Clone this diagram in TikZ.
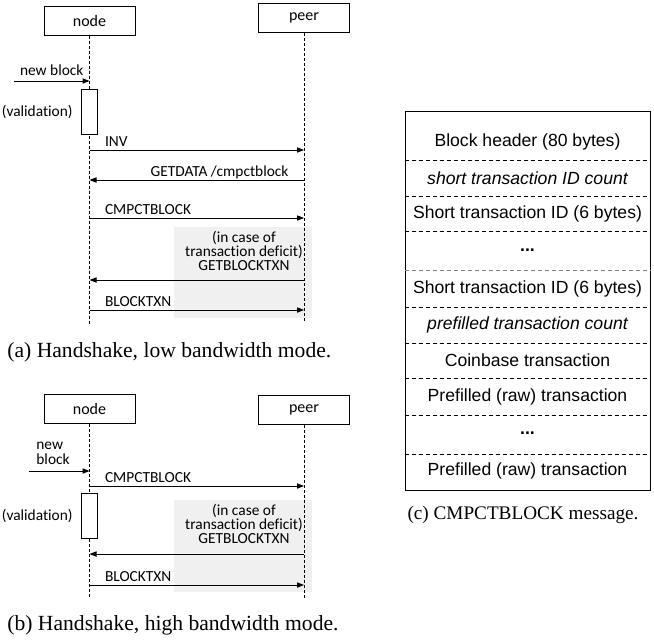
\documentclass[tikz,border=0pt]{standalone}
\usepackage{fontspec}
\setmainfont{Liberation Serif}
\newfontfamily\calibri[Ligatures={NoCommon}]{Carlito}
\newfontfamily\arial{Liberation Sans}
\usetikzlibrary{arrows.meta, positioning, calc}

\begin{document}
\begin{tikzpicture}[
    x=0.5pt, y=-0.5pt,
    >={Triangle[length=3.5pt, width=2.6pt]},
    lane/.style={rectangle, draw, line width=0.5pt, minimum width=45.5pt, minimum height=14.5pt, inner sep=0pt, font=\calibri\fontsize{8}{9}\selectfont},
    lifeline/.style={line width=0.5pt, dash pattern=on 1.5pt off 1pt},
    busy/.style={rectangle, draw, fill=white, line width=0.5pt, minimum width=8pt, minimum height=22.5pt, inner sep=0pt},
    msg/.style={->, line width=0.5pt},
    lbl/.style={inner sep=0.5pt, font=\calibri\fontsize{7.7}{7.2}\selectfont},
    deficit/.style={rectangle, fill=gray!12, draw=none, minimum width=69pt, inner sep=0pt},
    field/.style={inner sep=0pt, font=\arial\fontsize{8.8}{10}\selectfont},
    divider/.style={line width=0.5pt, dash pattern=on 2pt off 1.5pt},
    caption/.style={inner sep=0pt, font=\fontsize{10.8}{13}\selectfont},
]

\useasboundingbox (0,0) rectangle (654,643);

% (a) low bandwidth mode
\node[deficit, minimum height=45.5pt] (gapA) at (243,272.5) {};
\node[lane] (nodeA) at (89.5,20.5) {node};
\node[lane] (peerA) at (304,18) {peer};
\coordinate (nodeAend) at (89.5,325);
\coordinate (peerAend) at (304,323);
\draw[lifeline] (nodeA) -- (nodeAend);
\draw[lifeline] (peerA) -- (peerAend);

\coordinate (inA) at (14,81);
\draw[msg] (inA) -- node[lbl, anchor=base, yshift=3pt] {new block} (nodeA |- inA);
\node[busy] (valA) at (89.5,111.5) {};
\node[lbl, left=3.5pt of valA] (valAtxt) {(validation)};

\coordinate (invA) at (0,150);
\coordinate (getdataA) at (0,180);
\coordinate (cmpctA) at (0,218);
\coordinate (gettxnA) at (0,280);
\coordinate (txnA) at (0,310);
\draw[msg] (nodeA |- invA) -- node[lbl, pos=0, anchor=base west, xshift=7pt, yshift=2pt] {INV} (peerA |- invA);
\draw[msg] (peerA |- getdataA) -- node[lbl, pos=0, anchor=base east, xshift=-7pt, yshift=2pt] {GETDATA /cmpctblock} (nodeA |- getdataA);
\draw[msg] (nodeA |- cmpctA) -- node[lbl, pos=0, anchor=base west, xshift=7pt, yshift=2pt] {CMPCTBLOCK} (peerA |- cmpctA);
\node[lbl, align=center] (whyA) at (244,251) {(in case of\\transaction deficit)\\GETBLOCKTXN};
\draw[msg] (peerA |- gettxnA) -- (nodeA |- gettxnA);
\draw[msg] (nodeA |- txnA) -- node[lbl, pos=0, anchor=base west, xshift=7pt, yshift=2pt] {BLOCKTXN} (peerA |- txnA);

\node[caption, anchor=west] (capA) at (7,352) {(a) Handshake, low bandwidth mode.};

% (b) high bandwidth mode
\node[deficit, minimum height=46pt] (gapB) at (243,546) {};
\node[lane] (nodeB) at (89.5,409) {node};
\node[lane] (peerB) at (304,409.5) {peer};
\coordinate (nodeBend) at (89.5,598);
\coordinate (peerBend) at (304,598);
\draw[lifeline] (nodeB) -- (nodeBend);
\draw[lifeline] (peerB) -- (peerBend);

\coordinate (inB) at (29,471);
\draw[msg] (inB) -- (nodeB |- inB);
\node[lbl, align=left, anchor=west] (newB) at (35,453.5) {new\\block};

\coordinate (cmpctB) at (0,486);
\coordinate (gettxnB) at (0,554);
\coordinate (txnB) at (0,585);
\draw[msg] (nodeB |- cmpctB) -- node[lbl, pos=0, anchor=base west, xshift=7pt, yshift=2pt] {CMPCTBLOCK} (peerB |- cmpctB);
\node[busy] (valB) at (89.5,516) {};
\node[lbl, left=3.5pt of valB] (valBtxt) {(validation)};
\node[lbl, align=center] (whyB) at (244,524) {(in case of\\transaction deficit)\\GETBLOCKTXN};
\draw[msg] (peerB |- gettxnB) -- (nodeB |- gettxnB);
\draw[msg] (nodeB |- txnB) -- node[lbl, pos=0, anchor=base west, xshift=7pt, yshift=2pt] {BLOCKTXN} (peerB |- txnB);

\node[caption, anchor=west] (capB) at (7,625) {(b) Handshake, high bandwidth mode.};

% (c) CMPCTBLOCK message layout
\node[draw, line width=0.5pt, minimum width=122.5pt, minimum height=189.5pt, inner sep=0pt] (cmpct) at (527.5,300.5) {};
\foreach \y in {160,196,231,307,343,378,415,454}
    \draw[divider] (cmpct.west |- 0,\y) -- (cmpct.east |- 0,\y);
\draw[divider, gray] (cmpct.west |- 0,270) -- (cmpct.east |- 0,270);

\node[field] (hdr) at (527.5,142) {Block header (80 bytes)};
\node[field] (sidcount) at (527.5,178) {\itshape short transaction ID count};
\node[field] (sid1) at (527.5,213.5) {Short transaction ID (6 bytes)};
\node[field] (sdots) at (527.5,250) {\bfseries ...};
\node[field] (sid2) at (527.5,288.5) {Short transaction ID (6 bytes)};
\node[field] (precount) at (527.5,325) {\itshape prefilled transaction count};
\node[field] (coinbase) at (527.5,360.5) {Coinbase transaction};
\node[field] (pre1) at (527.5,396.5) {Prefilled (raw) transaction};
\node[field] (pdots) at (527.5,433) {\bfseries ...};
\node[field] (pre2) at (527.5,471) {Prefilled (raw) transaction};

\node[caption, font=\fontsize{9.6}{12}\selectfont] (capC) at (523,515) {(c) CMPCTBLOCK message.};

\end{tikzpicture}
\end{document}
